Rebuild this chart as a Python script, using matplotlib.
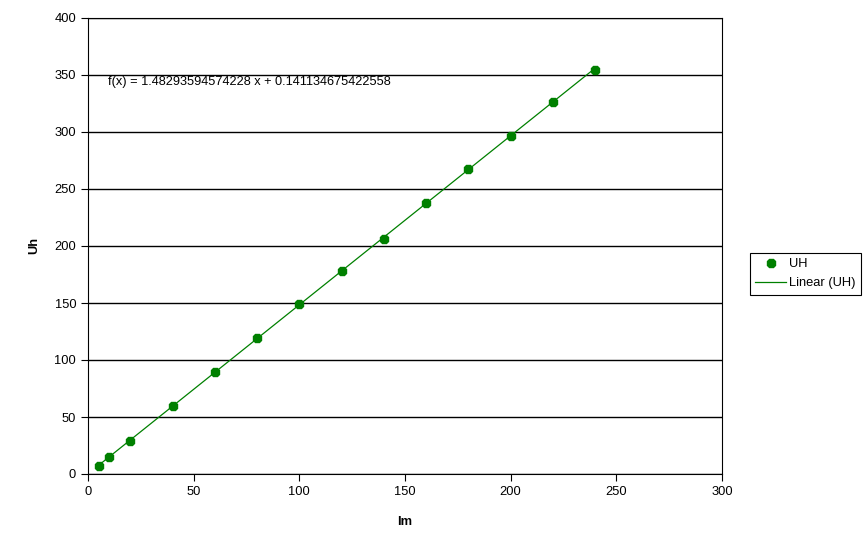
import numpy as np
import matplotlib.pyplot as plt

plt.rcParams['font.family'] = ['Liberation Sans', 'DejaVu Sans']

# Messdaten
im = [5, 10, 20, 40, 60, 80, 100, 120, 140, 160, 180, 200, 220, 240]
uh = [7, 14.5, 29, 59.5, 89.5, 119.5, 149, 178, 206.5, 237.5, 267.5, 296.5, 326, 354]

# Koeffizienten der Trendlinie (aus der Tabelle)
steigung = 1.48293594574228
achsenabschnitt = 0.141134675422558

fig = plt.figure(figsize=(8.67, 5.48), dpi=100)
ax = fig.add_axes([88/867, 74/548, 634/867, 456/548])

gruen = '#008000'
x_fit = np.array([min(im), max(im)])
ax.plot(x_fit, steigung * x_fit + achsenabschnitt, color=gruen, lw=0.9, label='Linear (UH)', zorder=2)
ax.plot(im, uh, linestyle='none', marker='8', markersize=6, color=gruen, label='UH', zorder=3)

ax.set_xlim(0, 300)
ax.set_ylim(0, 400)
ax.set_xticks(np.arange(0, 301, 50))
ax.set_yticks(np.arange(0, 401, 50))
ax.yaxis.grid(True, color='black', lw=1)
ax.set_axisbelow(True)
for s in ax.spines.values():
    s.set_linewidth(0.8)
ax.tick_params(labelsize=9.3, length=5, width=0.8, color='black')

ax.set_xlabel('Im', fontsize=9.3, fontweight='bold', labelpad=13)
ax.set_ylabel('Uh', fontsize=9.3, fontweight='bold', labelpad=10)

ax.text(9.5, 344, f'f(x) = {steigung} x + {achsenabschnitt}', fontsize=9.2, va='center', ha='left')

# Legende rechts neben dem Diagramm
handles, labels = ax.get_legend_handles_labels()
leg = fig.legend(handles[::-1], labels[::-1], loc='upper left', bbox_to_anchor=(750/867, 1 - 253/548),
                 fontsize=9.3, frameon=True, fancybox=False, edgecolor='black', framealpha=1,
                 handlelength=2.4, borderpad=0.4, labelspacing=0.55, handletextpad=0.25,
                 borderaxespad=0)
leg.get_frame().set_linewidth(0.8)

fig.savefig('out.png', dpi=100)
